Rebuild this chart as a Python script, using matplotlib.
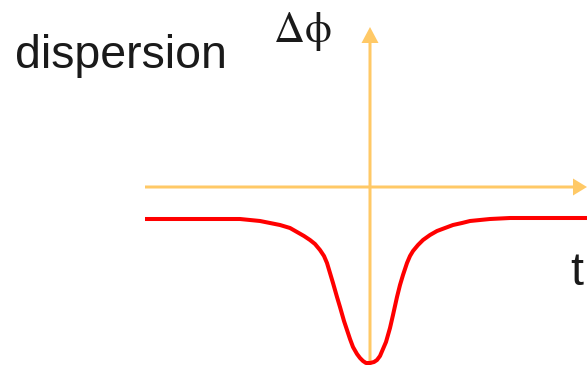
import matplotlib.pyplot as plt
from matplotlib.patches import FancyArrow

# phase dip (t relative to the centre, dphi upward)
t = [-225, -130, -120, -110, -100, -90, -80, -73, -66, -60, -55, -50, -46, -43, -40, -37,
     -33, -30, -26, -23, -20, -17, -13, -10, -7, -4, 0,
     4, 7, 10, 13, 16, 20, 23, 27, 30, 33, 37, 40, 43, 48, 53, 60, 67, 75, 83, 92,
     100, 110, 120, 140, 217]
dphi = [-32, -32, -33, -34, -36, -38, -41, -45, -49, -53, -57, -63, -69, -76, -86, -96,
        -110, -120, -134, -143, -152, -160, -167, -171, -174, -176, -176,
        -175, -173, -169, -162, -155, -141, -128, -110, -98, -88, -76, -69, -64, -58, -53,
        -48, -44, -41, -38, -36, -34, -33, -32, -31, -31]

axis_color = '#FFC966'
plt.rcParams['mathtext.fontset'] = 'stix'

fig = plt.figure(figsize=(5.87, 3.65), dpi=100)
ax = fig.add_axes([0, 0, 1, 1])
ax.set_xlim(-370, 217)
ax.set_ylim(-178, 187)
ax.axis('off')

# axes with arrows
ax.add_patch(FancyArrow(-225, 0, 442, 0, width=3, head_width=17, head_length=14,
                        length_includes_head=True, color=axis_color, lw=0))
ax.add_patch(FancyArrow(0, -178, 0, 338, width=3, head_width=17, head_length=16,
                        length_includes_head=True, color=axis_color, lw=0))

ax.plot(t, dphi, color='red', lw=2.9, solid_capstyle='butt', solid_joinstyle='round')

ax.text(-355, 119, 'dispersion', fontsize=33.5, family='Liberation Sans',
        va='baseline', ha='left', color='#1a1a1a')
ax.text(-97, 145, r'$\mathrm{\Delta\phi}$', fontsize=31,
        va='baseline', ha='left', color='#1a1a1a')
ax.text(200, -98, 't', fontsize=33.5, family='Liberation Sans',
        va='baseline', ha='left', color='#1a1a1a')

fig.savefig('out.png', dpi=100)
